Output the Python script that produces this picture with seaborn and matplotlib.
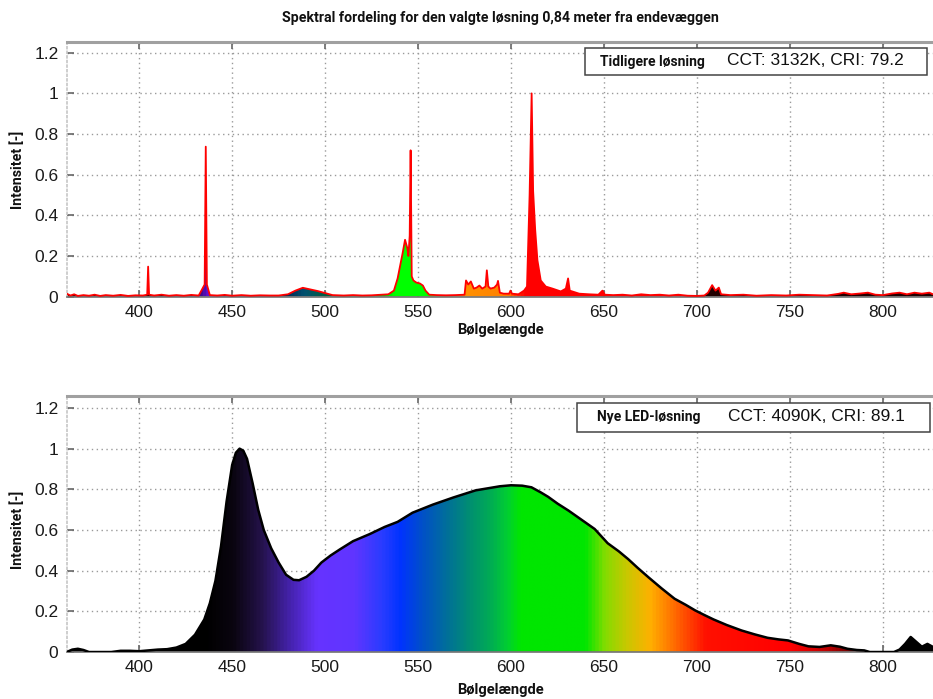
import numpy as np
import pandas as pd
import matplotlib.pyplot as plt
import seaborn as sns
from matplotlib.colors import LinearSegmentedColormap
from matplotlib.patches import Rectangle

# wavelength (nm) and relative intensity
old_nm = [361, 363, 365, 367, 370, 373, 376, 379, 382, 386, 390, 394, 398, 402,
          404.3, 404.8, 405.3, 408, 412, 416, 420, 424, 428, 432, 435.2, 435.8, 436.4,
          438, 442, 446, 450, 455, 460, 465, 470, 475, 480, 484, 488, 492, 496, 500,
          504, 510, 515, 520, 525, 530, 534, 537, 539, 541.6, 543, 544.2, 544.8, 545.5,
          546, 546.6, 547.5, 549, 551, 552.6, 554, 556, 560, 565, 570, 575, 575.8, 577,
          578.4, 580, 581.5, 583, 584.5, 586.3, 587, 587.8, 589, 591, 592.5, 593, 594,
          596, 599, 599.7, 600.5, 604, 607, 608.6, 610, 611.1, 611.9, 613, 614.2, 616,
          618.7, 622.3, 626.8, 629.5, 630.7, 631.6, 636.7, 642, 647, 649.2, 650.5, 655,
          660, 665, 670, 675, 680, 685, 690, 695, 700, 704, 706, 708.2, 710, 711.8, 713,
          718, 725, 732, 740, 748, 755, 762, 770, 776, 779, 783, 788, 792, 796, 800,
          805, 809, 813, 817, 821, 825, 827]
old_int = [0.015, 0.006, 0.012, 0.004, 0.008, 0.005, 0.01, 0.004, 0.008, 0.005, 0.009, 0.004, 0.007, 0.006,
           0.01, 0.148, 0.01, 0.006, 0.01, 0.005, 0.008, 0.005, 0.009, 0.006, 0.06, 0.738, 0.06,
           0.008, 0.006, 0.009, 0.005, 0.008, 0.005, 0.007, 0.006, 0.006, 0.012, 0.03, 0.044, 0.036, 0.028, 0.018,
           0.008, 0.006, 0.008, 0.006, 0.007, 0.01, 0.012, 0.03, 0.09, 0.21, 0.28, 0.24, 0.2, 0.3,
           0.72, 0.1, 0.08, 0.07, 0.065, 0.055, 0.03, 0.01, 0.008, 0.007, 0.008, 0.01, 0.08, 0.06,
           0.075, 0.04, 0.045, 0.055, 0.04, 0.05, 0.13, 0.05, 0.04, 0.045, 0.06, 0.078, 0.02,
           0.015, 0.015, 0.03, 0.015, 0.012, 0.03, 0.05, 0.5, 1.0, 0.52, 0.33, 0.18, 0.08,
           0.05, 0.04, 0.026, 0.04, 0.09, 0.03, 0.015, 0.012, 0.01, 0.03, 0.01, 0.008,
           0.01, 0.006, 0.012, 0.008, 0.01, 0.006, 0.01, 0.005, 0.004, 0.006, 0.02, 0.057, 0.03, 0.045, 0.012,
           0.008, 0.01, 0.005, 0.008, 0.006, 0.01, 0.008, 0.006, 0.014, 0.02, 0.012, 0.016, 0.02, 0.01, 0.008,
           0.016, 0.02, 0.012, 0.02, 0.015, 0.02, 0.012]

led_nm = [361, 364, 367, 370, 373, 385, 390, 395, 400, 405, 410, 415, 420, 425, 430, 435,
          438, 441, 444, 447, 450, 452, 454, 456, 458, 461, 464, 467, 471, 475, 479, 483,
          486, 490, 494, 498, 503, 508, 515, 524, 532, 539, 547, 558, 569, 581, 594, 600,
          606, 611, 616, 620, 625, 631, 638, 645, 652, 658, 663, 668, 674, 681, 688, 694,
          699, 704, 709, 716, 724, 731, 738, 744, 749, 755, 760, 766, 772, 777, 781, 786,
          790, 793, 806, 809, 812, 815, 818, 821, 824, 827]
led_int = [0.0, 0.012, 0.016, 0.01, 0.0, 0.0, 0.006, 0.006, 0.004, 0.008, 0.012, 0.014, 0.022, 0.04, 0.085, 0.16,
           0.24, 0.35, 0.52, 0.74, 0.92, 0.98, 1.0, 0.99, 0.95, 0.83, 0.7, 0.6, 0.51, 0.44, 0.38, 0.355,
           0.353, 0.37, 0.40, 0.44, 0.475, 0.505, 0.545, 0.58, 0.615, 0.64, 0.685, 0.725, 0.76, 0.795, 0.815, 0.82,
           0.818, 0.81, 0.785, 0.763, 0.73, 0.695, 0.65, 0.605, 0.535, 0.495, 0.457, 0.415, 0.367, 0.313, 0.262, 0.232,
           0.205, 0.182, 0.16, 0.133, 0.106, 0.087, 0.07, 0.062, 0.057, 0.04, 0.028, 0.025, 0.033, 0.026, 0.016, 0.01,
           0.008, 0.0, 0.0, 0.012, 0.04, 0.074, 0.05, 0.026, 0.04, 0.025]

x_ticks = [400, 450, 500, 550, 600, 650, 700, 750, 800]
y_ticks = [0, 0.2, 0.4, 0.6, 0.8, 1.0, 1.2]
y_tick_labels = ['0', '0.2', '0.4', '0.6', '0.8', '1', '1.2']

title = 'Spektral fordeling for den valgte løsning 0,84 meter fra endevæggen'
x_label = 'Bølgelængde'
y_label = 'Intensitet [-]'
old_name, old_stats = 'Tidligere løsning', 'CCT: 3132K, CRI: 79.2'
led_name, led_stats = 'Nye LED-løsning', 'CCT: 4090K, CRI: 89.1'

X_MIN, X_MAX = 361, 827

# colour under the curve, by wavelength
old_colors = [(361, '#300000'), (400, '#100000'), (410, '#000000'), (428, '#200040'),
              (436, '#6010d0'), (446, '#200030'), (478, '#002850'), (488, '#005070'),
              (500, '#006040'), (525, '#00a000'), (537, '#00ff00'), (556, '#00ff00'),
              (568, '#c0a000'), (576, '#ff9000'), (598, '#ff8000'), (604, '#ff2000'),
              (608, '#ff0000'), (690, '#ff0000'), (700, '#200000'), (827, '#200000')]
led_colors = [(361, '#000000'), (435, '#000000'), (450, '#0a0510'), (465, '#24124a'),
              (480, '#4422aa'), (495, '#6633ff'), (515, '#6035ff'), (530, '#2a3cff'),
              (540, '#0033ff'), (552, '#0050c8'), (565, '#006f9a'), (578, '#009070'),
              (590, '#00b050'), (598, '#00d030'), (605, '#00e600'), (640, '#00e600'),
              (650, '#80dd00'), (662, '#c8c800'), (675, '#ffb000'), (690, '#ff6000'),
              (705, '#ff1000'), (750, '#ff0000'), (770, '#c00000'), (785, '#600000'),
              (795, '#000000'), (827, '#000000')]

BOLD = ['Roboto', 'DejaVu Sans']


def spectrum_cmap(stops):
    '''builds a colormap running from X_MIN to X_MAX'''
    span = X_MAX - X_MIN
    return LinearSegmentedColormap.from_list('spec', [((nm - X_MIN) / span, c) for nm, c in stops])


def draw_spectrum(ax, nm, vals, stops, line_color, lw, ytop):
    '''gradient fill under the spectrum plus its outline'''
    df = pd.DataFrame({'nm': nm, 'val': vals})
    poly = ax.fill_between(df['nm'], 0, df['val'], facecolor='none', edgecolor='none')
    grad = np.linspace(0, 1, 1500).reshape(1, -1)
    im = ax.imshow(grad, cmap=spectrum_cmap(stops), aspect='auto', origin='lower',
                   extent=(X_MIN, X_MAX, 0, ytop), interpolation='bilinear', zorder=2)
    im.set_clip_path(poly.get_paths()[0], transform=ax.transData)
    sns.lineplot(data=df, x='nm', y='val', ax=ax, color=line_color, lw=lw,
                 estimator=None, sort=False, zorder=3)


def style_axes(ax, ytop, name, stats, box):
    ax.set_xlim(X_MIN, X_MAX)
    ax.set_ylim(0, ytop)
    ax.set_xticks(x_ticks)
    ax.set_yticks(y_ticks)
    ax.set_yticklabels(y_tick_labels)
    ax.set_xlabel('')
    ax.set_ylabel('')
    ax.set_axisbelow(True)
    ax.grid(True, ls=(0, (1, 2.5)), color='#9a9a9a', lw=1.0)
    ax.tick_params(direction='in', length=5, width=1.2, color='#666666', top=True,
                   bottom=True, left=True, right=False, labelsize=12.5,
                   labelcolor='#1a1a1a', pad=6)
    ax.spines['top'].set_color('#a0a0a0')
    ax.spines['top'].set_linewidth(2.2)
    ax.spines['left'].set_color('#c8c8c8')
    ax.spines['left'].set_linestyle(':')
    ax.spines['bottom'].set_color('#777777')
    ax.spines['right'].set_visible(False)
    x0, x1, y0, y1, tx, sx = box
    ax.add_patch(Rectangle((x0, y0), x1 - x0, y1 - y0, transform=ax.transAxes,
                           facecolor='white', edgecolor='#444444', lw=1.1, zorder=5))
    ym = (y0 + y1) / 2
    ax.text(tx, ym, name, transform=ax.transAxes, ha='left', va='center',
            fontsize=10, fontweight='bold', family=BOLD, color='#111111', zorder=6)
    ax.text(sx, ym + 0.005, stats, transform=ax.transAxes, ha='left', va='center',
            fontsize=12.5, color='#111111', zorder=6)


sns.set_theme(style='white')
plt.rcParams['font.family'] = ['Liberation Sans', 'DejaVu Sans']

fig = plt.figure(figsize=(9.33, 6.99), dpi=100)
ax_top = fig.add_axes([0.0715, 0.5755, 0.9285, 0.3648])
ax_bot = fig.add_axes([0.0715, 0.0672, 0.9285, 0.3663])

draw_spectrum(ax_top, old_nm, old_int, old_colors, '#ff0000', 1.3, 1.254)
draw_spectrum(ax_bot, led_nm, led_int, led_colors, '#000000', 1.8, 1.259)

style_axes(ax_top, 1.254, old_name, old_stats, (0.598, 0.993, 0.869, 0.974, 0.616, 0.762))
style_axes(ax_bot, 1.259, led_name, led_stats, (0.589, 0.997, 0.859, 0.973, 0.612, 0.763))

fig.text(500 / 933, 1 - 18 / 699, title, ha='center', va='center', fontsize=10.2,
         fontweight='bold', family=BOLD, color='#111111')
for yc in (330, 690):
    fig.text(500 / 933, 1 - yc / 699, x_label, ha='center', va='center', fontsize=10.5,
             fontweight='bold', family=BOLD, color='#111111')
for yc in (170, 530):
    fig.text(18 / 933, 1 - yc / 699, y_label, ha='center', va='center', rotation=90,
             fontsize=10.2, fontweight='bold', family=BOLD, color='#111111')

plt.savefig('out.png', dpi=100)
plt.close()
